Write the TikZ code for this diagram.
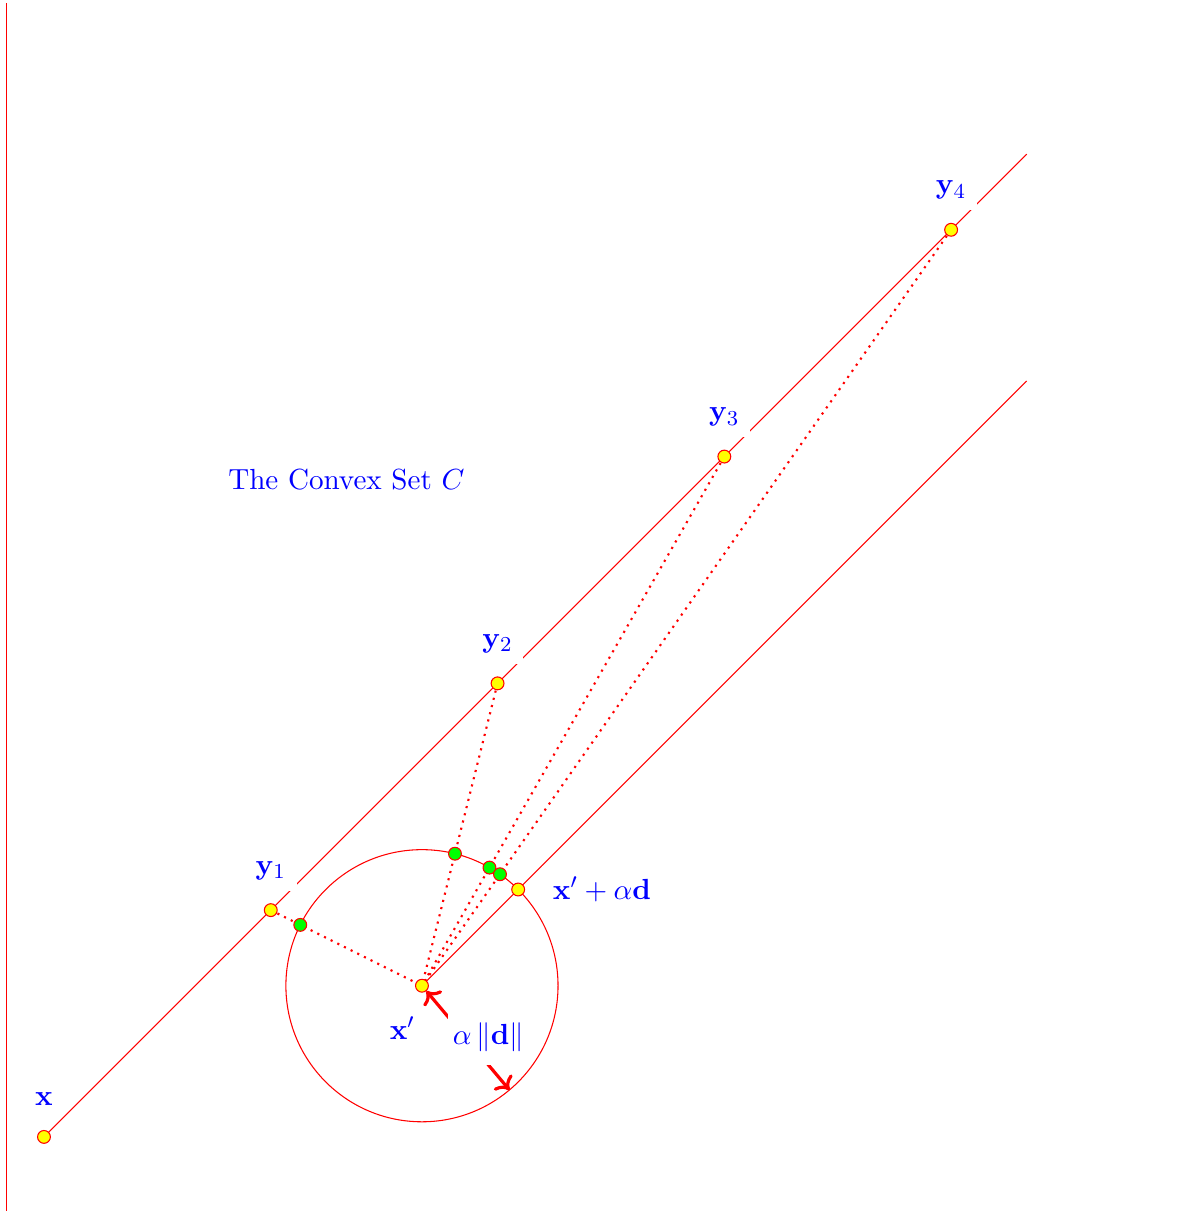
\documentclass[tikz,border=0pt]{standalone}
\usetikzlibrary{arrows.meta,calc,positioning}
\definecolor{LineRed}{HTML}{FF0000}
\definecolor{TagBlue}{HTML}{0000FF}
\definecolor{DotYellow}{HTML}{FFFF00}
\definecolor{DotGreen}{HTML}{00FF00}
\tikzset{
  pnt/.style={
    circle, draw=LineRed, fill=DotYellow, minimum size=0.17cm, inner sep=0pt
  },
  hitpnt/.style={pnt, fill=DotGreen},
  tag/.style={
    text=TagBlue, fill=white, inner sep=4pt,
    font=\fontsize{10.95}{13.6}\selectfont
  },
  guide/.style={draw=LineRed},
  ray/.style={draw=LineRed, thick, dotted},
  radarrow/.style={<->, very thick, draw=LineRed}
}

\begin{document}
\begin{tikzpicture}
    \useasboundingbox (-0.582,-0.98) rectangle (15.02,15.04);
    \draw[guide] (-0.5,-0.98) -- (-0.5,15);
    \coordinate (px) at (0,0);
    \coordinate (pxp) at (5,2);
    \foreach \i in {1,...,4} {
      \coordinate (py\i) at (3*\i,3*\i);
    }
    \coordinate (topend) at (13,13);
    \coordinate (dend) at ($(pxp)+(8,8)$);
    \coordinate (rim) at ($(pxp)+(-50:1.8)$);
    \draw[guide] (px) -- (topend);
    \draw[guide] (pxp) -- (dend);
    \draw[guide] (pxp) circle (1.8);
    \foreach \i in {1,...,4} {
      \draw[ray] (py\i) -- (pxp);
    }
    \node[pnt] (x) at (px) {};
    \node[pnt] (xp) at (pxp) {};
    \node[pnt] (xd) at ($(pxp)+(45:1.8)$) {};
    \foreach \i in {1,...,4} {
      \node[pnt] (y\i) at (py\i) {};
      \node[hitpnt] (h\i) at ($(pxp)!1.8cm!(py\i)$) {};
    }
    \draw[radarrow] (xp) -- (rim);
    \node[tag,above=0.18cm of x] (lx) {$\mathbf{x}$};
    \foreach \i in {1,...,4} {
      \node[tag,above=0.16cm of y\i] (ly\i) {$\mathbf{y}_\i$};
    }
    \node[tag,below=0.17cm of xp,xshift=-0.26cm] (lxp) {$\mathbf{x}'$};
    \node[tag,right=0.22cm of xd] (lxd) {$\mathbf{x}'+\alpha\mathbf{d}$};
    \node[tag,inner xsep=2pt,inner ysep=5pt] (lrad) at ($(pxp)+(0.88,-0.68)$)
      {$\alpha\left\|\mathbf{d}\right\|$};
    \node[text=TagBlue,font=\fontsize{10.95}{13.6}\selectfont] (title) at (4,8.7)
      {The Convex Set $C$};
  \end{tikzpicture}
\end{document}
